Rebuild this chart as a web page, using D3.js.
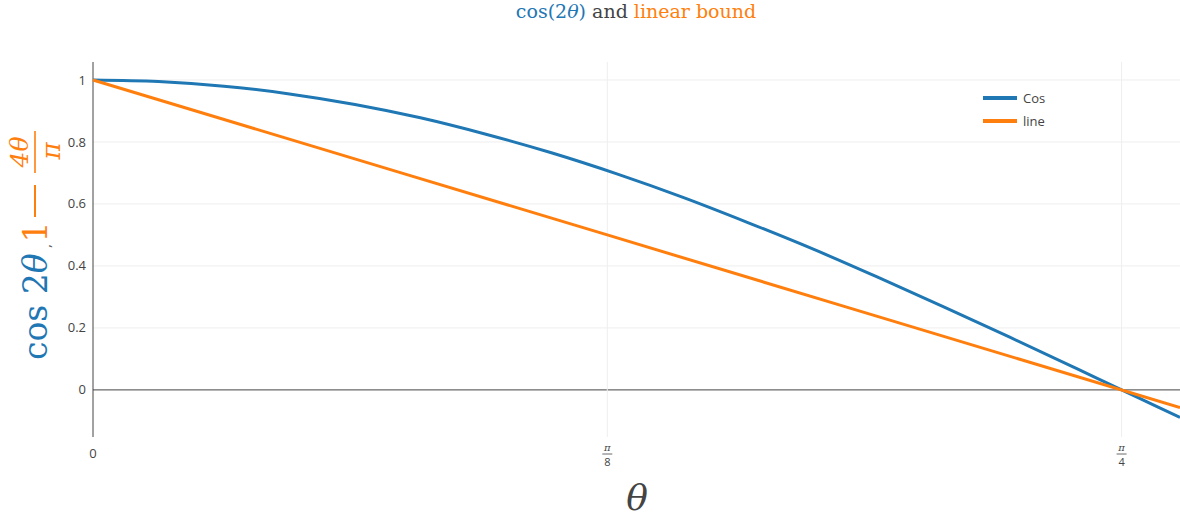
<!DOCTYPE html>
<html>
<head>
<meta charset="utf-8">
<script src="https://cdn.jsdelivr.net/npm/d3@7"></script>
<style>
  body { margin: 0; background: #fff; }
  svg { display: block; }
</style>
</head>
<body>
<div id="chart"></div>
<script>
var width = 1180,
    height = 518;

// values
var thetaCos = [0, 0.05, 0.10, 0.15, 0.20, 0.25, 0.30, 0.35, 0.40, 0.45, 0.50, 0.55, 0.60, 0.65, 0.70, 0.75, 0.80, 0.83];
var cosValues = [1, 0.995, 0.980, 0.955, 0.921, 0.878, 0.825, 0.765, 0.697, 0.622, 0.540, 0.454, 0.362, 0.267, 0.170, 0.071, -0.029, -0.089];
var thetaLine = [0, 0.3927, 0.83];
var lineValues = [1, 0.5, -0.057];

var seriesNames = ["Cos", "line"];
var seriesColors = ["#1f77b4", "#ff7f0e"];

var yTicks = [0, 0.2, 0.4, 0.6, 0.8, 1];
var xTickValues = [0, 0.3927, 0.7854];
var xTickLabels = [null, "8", "4"]; // denominators under pi, first one is plain 0

var margin = {left: 93, right: 0, top: 62, bottom: 81};

var x = d3.scaleLinear().domain([0, 0.83]).range([margin.left, width - margin.right]);
var y = d3.scaleLinear().domain([-0.152, 1.058]).range([height - margin.bottom, margin.top]);

var svg = d3.select("#chart")
    .append("svg")
    .attr("width", width)
    .attr("height", height);

var serif = "'DejaVu Serif', serif";

// grid
svg.selectAll(".ygrid")
    .data(yTicks)
    .enter().append("line")
    .attr("class", "ygrid")
    .attr("x1", margin.left).attr("x2", width - margin.right)
    .attr("y1", d => y(d)).attr("y2", d => y(d))
    .attr("stroke", d => d === 0 ? "#444" : "#eee")
    .attr("stroke-width", 1);

svg.selectAll(".xgrid")
    .data(xTickValues.slice(1))
    .enter().append("line")
    .attr("class", "xgrid")
    .attr("x1", d => x(d)).attr("x2", d => x(d))
    .attr("y1", margin.top).attr("y2", height - margin.bottom)
    .attr("stroke", "#eee");

// y axis line
svg.append("line")
    .attr("x1", x(0)).attr("x2", x(0))
    .attr("y1", margin.top).attr("y2", height - margin.bottom)
    .attr("stroke", "#444").attr("stroke-width", 1);

// y tick labels
svg.selectAll(".ytick")
    .data(yTicks)
    .enter().append("text")
    .attr("class", "ytick")
    .attr("x", margin.left - 7)
    .attr("y", d => y(d))
    .attr("dy", "0.35em")
    .attr("text-anchor", "end")
    .attr("font-family", "'Open Sans', sans-serif")
    .attr("font-size", 13)
    .attr("fill", "#444")
    .text(d => d);

// x tick labels
xTickValues.forEach(function(v, i) {
    var g = svg.append("g").attr("transform", "translate(" + x(v) + ",0)");
    if (xTickLabels[i] === null) {
        g.append("text")
            .attr("y", 458)
            .attr("text-anchor", "middle")
            .attr("font-family", "'Open Sans', sans-serif")
            .attr("font-size", 13)
            .attr("fill", "#444")
            .text("0");
    } else {
        g.append("text")
            .attr("y", 451)
            .attr("text-anchor", "middle")
            .attr("font-family", serif)
            .attr("font-style", "italic")
            .attr("font-size", 10)
            .attr("fill", "#444")
            .text("π");
        g.append("line")
            .attr("x1", -5).attr("x2", 5)
            .attr("y1", 454).attr("y2", 454)
            .attr("stroke", "#444").attr("stroke-width", 0.8);
        g.append("text")
            .attr("y", 466)
            .attr("text-anchor", "middle")
            .attr("font-family", "'Open Sans', sans-serif")
            .attr("font-size", 11)
            .attr("fill", "#444")
            .text(xTickLabels[i]);
    }
});

// traces
var line = d3.line()
    .x(d => x(d[0]))
    .y(d => y(d[1]))
    .curve(d3.curveCatmullRom);

var series = [
    d3.zip(thetaCos, cosValues),
    d3.zip(thetaLine, lineValues)
];

svg.selectAll(".trace")
    .data(series)
    .enter().append("path")
    .attr("class", "trace")
    .attr("d", d => line(d))
    .attr("fill", "none")
    .attr("stroke", (d, i) => seriesColors[i])
    .attr("stroke-width", 3);

// legend
var legend = svg.selectAll(".legend")
    .data(seriesNames)
    .enter().append("g")
    .attr("class", "legend")
    .attr("transform", (d, i) => "translate(983," + (98 + i * 23) + ")");

legend.append("line")
    .attr("x1", 0).attr("x2", 34)
    .attr("stroke", (d, i) => seriesColors[i])
    .attr("stroke-width", 4);

legend.append("text")
    .attr("x", 40)
    .attr("dy", "0.35em")
    .attr("font-family", "'Open Sans', sans-serif")
    .attr("font-size", 13)
    .attr("fill", "#444")
    .text(d => d);

// title
var title = svg.append("text")
    .attr("x", 636)
    .attr("y", 18)
    .attr("text-anchor", "middle")
    .attr("font-family", serif)
    .attr("font-size", 19);
title.append("tspan").attr("fill", seriesColors[0]).text("cos(2");
title.append("tspan").attr("fill", seriesColors[0]).attr("font-style", "italic").text("θ");
title.append("tspan").attr("fill", seriesColors[0]).text(")");
title.append("tspan").attr("fill", "#444").text(" and ");
title.append("tspan").attr("fill", seriesColors[1]).text("linear bound");

// x axis title
svg.append("text")
    .attr("x", 637)
    .attr("y", 510)
    .attr("text-anchor", "middle")
    .attr("font-family", serif)
    .attr("font-style", "italic")
    .attr("font-size", 36)
    .attr("fill", "#444")
    .text("θ");

// y axis title, rotated; local x runs up the page, local y = 0 is the baseline
var yt = svg.append("g").attr("transform", "translate(47,360) rotate(-90)");
var ytext = yt.append("text")
    .attr("x", 0)
    .attr("y", 0)
    .attr("font-family", serif)
    .attr("font-size", 33)
    .attr("fill", seriesColors[0]);
ytext.append("tspan").text("cos 2");
ytext.append("tspan").attr("font-style", "italic").text("θ");

yt.append("text")
    .attr("x", 114).attr("y", 3)
    .attr("text-anchor", "middle")
    .attr("font-family", serif)
    .attr("font-size", 13)
    .attr("fill", "#444")
    .text(",");

yt.append("text")
    .attr("x", 128).attr("y", 0)
    .attr("text-anchor", "middle")
    .attr("font-family", serif)
    .attr("font-size", 33)
    .attr("fill", seriesColors[1])
    .text("1");

yt.append("line")
    .attr("x1", 143).attr("x2", 175)
    .attr("y1", -12).attr("y2", -12)
    .attr("stroke", seriesColors[1]).attr("stroke-width", 2);

yt.append("text")
    .attr("x", 208).attr("y", -19)
    .attr("text-anchor", "middle")
    .attr("font-family", serif)
    .attr("font-style", "italic")
    .attr("font-size", 25)
    .attr("fill", seriesColors[1])
    .text("4θ");

yt.append("line")
    .attr("x1", 187).attr("x2", 229)
    .attr("y1", -12).attr("y2", -12)
    .attr("stroke", seriesColors[1]).attr("stroke-width", 1.6);

yt.append("text")
    .attr("x", 209).attr("y", 13)
    .attr("text-anchor", "middle")
    .attr("font-family", serif)
    .attr("font-style", "italic")
    .attr("font-size", 26)
    .attr("fill", seriesColors[1])
    .text("π");
</script>
</body>
</html>
